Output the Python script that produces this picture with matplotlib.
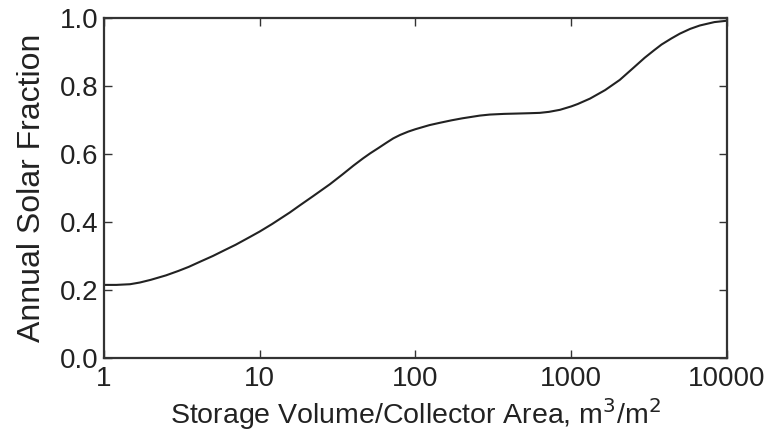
import matplotlib
matplotlib.use("Agg")
import matplotlib.pyplot as plt
from matplotlib.ticker import FixedLocator, FixedFormatter, NullLocator

plt.rcParams['font.family'] = ['Liberation Sans', 'DejaVu Sans']

# Storage volume / collector area (m3/m2) and annual solar fraction
storage_ratio = [1.0, 1.2, 1.47, 1.7, 2.0, 2.5, 3.0, 3.5, 4.13, 5.0, 6.0, 7.0, 8.65,
                 10.0, 12.0, 15.6, 18.1, 22.0, 28.2, 34.0, 40.0, 46.0, 51.2, 58.0,
                 65.0, 72.0, 79.6, 90.0, 100.0, 123.0, 144.0, 170.0, 200.0, 259.0,
                 300.0, 370.0, 450.0, 540.0, 628.0, 720.0, 847.0, 1000.0, 1100.0,
                 1320.0, 1650.0, 2050.0, 2500.0, 2960.0, 3400.0, 3800.0, 4400.0,
                 4980.0, 5800.0, 6690.0, 8300.0, 10000.0]
solar_fraction = [0.215, 0.215, 0.217, 0.222, 0.230, 0.243, 0.256, 0.268, 0.283, 0.300,
                  0.318, 0.333, 0.356, 0.372, 0.394, 0.428, 0.449, 0.476, 0.511, 0.540,
                  0.566, 0.587, 0.602, 0.618, 0.633, 0.646, 0.656, 0.666, 0.673, 0.685,
                  0.692, 0.699, 0.705, 0.713, 0.716, 0.718, 0.719, 0.720, 0.721, 0.724,
                  0.730, 0.740, 0.747, 0.763, 0.788, 0.818, 0.853, 0.883, 0.905, 0.922,
                  0.940, 0.954, 0.968, 0.978, 0.988, 0.992]

x_ticks = [1, 10, 100, 1000, 10000]
x_tick_labels = ["1", "10", "100", "1000", "10000"]
y_ticks = [0.0, 0.2, 0.4, 0.6, 0.8, 1.0]
y_tick_labels = ["0.0", "0.2", "0.4", "0.6", "0.8", "1.0"]

fig = plt.figure(figsize=(7.69, 4.36), dpi=100)
ax = fig.add_axes([0.1352, 0.1789, 0.9454 - 0.1352, 0.9587 - 0.1789])

ax.plot(storage_ratio, solar_fraction, color="#222222", lw=1.5,
        solid_capstyle="round", solid_joinstyle="round")

ax.set_xscale("log")
ax.set_xlim(1, 10000)
ax.set_ylim(0, 1.0)
ax.xaxis.set_major_locator(FixedLocator(x_ticks))
ax.xaxis.set_major_formatter(FixedFormatter(x_tick_labels))
ax.xaxis.set_minor_locator(NullLocator())
ax.yaxis.set_major_locator(FixedLocator(y_ticks))
ax.yaxis.set_major_formatter(FixedFormatter(y_tick_labels))

ax.tick_params(which="major", direction="in", length=6, width=1.0, color="#333333",
               top=True, right=True, labelsize=20, labelcolor="#222222")
ax.tick_params(axis="x", pad=6)
ax.tick_params(axis="y", pad=4)
for s in ax.spines.values():
    s.set_linewidth(1.6)
    s.set_color("#333333")

ax.set_xlabel("Storage Volume/Collector Area, m$^3$/m$^2$", fontsize=20.5, color="#222222",
              labelpad=3)
ax.set_ylabel("Annual Solar Fraction", fontsize=23, color="#222222", labelpad=9)

fig.savefig("out.png", dpi=100, facecolor="white")
